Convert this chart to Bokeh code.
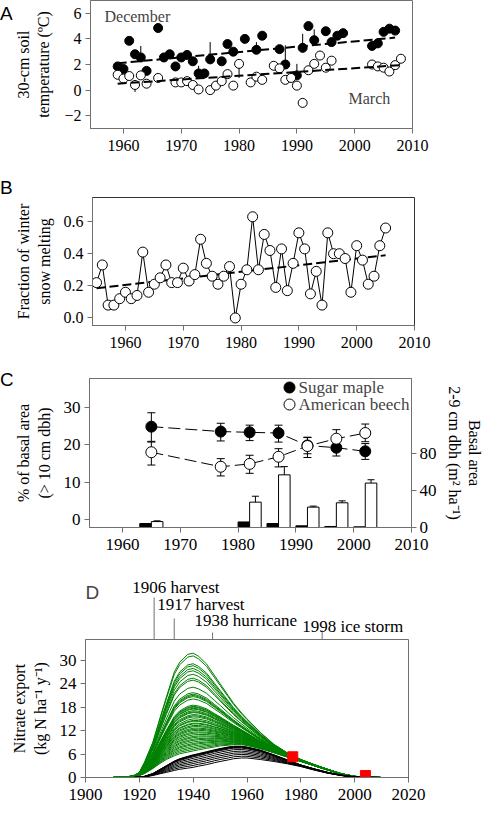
from bokeh.plotting import figure
from bokeh.layouts import column, row
from bokeh.models import (Range1d, LinearAxis, FixedTicker, PrintfTickFormatter, Label,
                          ColumnDataSource, Div)
from bokeh.transform import dodge
from bokeh.embed import file_html
from bokeh.resources import INLINE
from bokeh.core.properties import value

# ---------------- Panel A: 30-cm soil temperature ----------------
dec_year = [1959, 1960, 1961, 1962, 1963, 1964, 1966, 1967, 1968, 1969,
            1970, 1971, 1972, 1973, 1974, 1975, 1977, 1978, 1979, 1981,
            1983, 1984, 1987, 1988, 1990, 1991, 1992, 1993, 1995, 1996,
            1997, 1998, 2003, 2004, 2005, 2006, 2007]
dec_temp = [1.85, 1.65, 3.85, 2.8, 2.55, 1.5, 4.85, 2.55, 2.8, 1.85,
            2.55, 2.75, 2.25, 1.3, 1.3, 2.4, 2.25, 3.6, 3.0, 4.0,
            3.15, 4.25, 3.2, 2.0, 1.15, 3.3, 5.0, 3.9, 4.6, 3.75,
            4.25, 4.45, 3.45, 3.65, 4.55, 4.8, 4.65]
mar_year = [1959, 1960, 1961, 1962, 1963, 1964, 1966, 1969, 1970, 1971,
            1972, 1973, 1975, 1976, 1977, 1978, 1979, 1980, 1982, 1983,
            1984, 1986, 1987, 1988, 1989, 1990, 1991, 1992, 1993, 1994,
            1995, 1996, 2003, 2004, 2005, 2006, 2007, 2008]
mar_temp = [1.2, 0.9, 1.1, 0.4, 1.15, 0.5, 0.95, 0.6, 0.6, 0.7,
            0.4, 0.05, 0.0, 0.35, 0.7, 1.25, 0.35, 2.05, 0.6, 1.05,
            0.8, 1.9, 1.7, 0.8, 0.95, 0.35, -1.0, 1.55, 2.05, 2.7,
            1.75, 2.3, 2.0, 1.85, 1.75, 1.45, 1.95, 2.45]
dec_err_year = [1963, 1973, 1975, 1983, 1988, 1990, 1991, 1993]
dec_err_top = [3.45, 1.9, 3.75, 3.75, 3.5, 2.05, 4.4, 4.75]
mar_err_year = [1962, 1980]
mar_err_bottom = [-0.15, 0.95]
dec_trend_year = [1959, 2007]
dec_trend = [2.1, 4.1]
mar_trend_year = [1959, 2008]
mar_trend = [0.5, 1.95]

# ---------------- Panel B: fraction of winter snow melting ----------------
snow_year = list(range(1955, 2006))
snow_frac = [0.22, 0.33, 0.08, 0.08, 0.12, 0.16, 0.12, 0.14, 0.41, 0.16,
             0.21, 0.25, 0.33, 0.22, 0.22, 0.31, 0.23, 0.27, 0.49, 0.34,
             0.26, 0.21, 0.26, 0.32, 0.00, 0.21, 0.30, 0.63, 0.30, 0.52,
             0.42, 0.19, 0.43, 0.17, 0.34, 0.53, 0.43, 0.15, 0.29, 0.08,
             0.53, 0.40, 0.40, 0.37, 0.16, 0.45, 0.36, 0.21, 0.26, 0.45,
             0.56]
snow_trend_year = [1955, 2005]
snow_trend = [0.185, 0.39]

# ---------------- Panel C: basal area ----------------
survey_year = [1965, 1977, 1982, 1987, 1992, 1997, 2002]
maple_pct = [24.8, 23.5, 23.3, 23.1, 19.8, 19.2, 18.25]
maple_lo = [20.9, 21.0, 21.1, 20.7, 17.6, 17.0, 16.1]
maple_hi = [28.5, 25.7, 25.2, 25.2, 22.0, 21.1, 20.3]
beech_pct = [18.0, 14.15, 14.9, 16.8, 19.65, 21.6, 23.1]
beech_lo = [14.6, 11.7, 12.4, 14.1, 16.6, 19.2, 20.8]
beech_hi = [20.7, 16.3, 17.2, 18.95, 21.9, 24.0, 25.5]
sapling_year = [1965, 1982, 1987, 1992, 1997, 2002]
maple_ba = [4.3, 6.0, 4.3, 1.8, 1.1, 0.7]
beech_ba = [6.4, 27.4, 56.9, 22.0, 26.7, 48.0]
beech_ba_hi = [7.2, 33.8, 65.8, 23.1, 28.8, 51.6]
legend_labels = ["Sugar maple", "American beech"]

# ---------------- Panel D: nitrate export simulations ----------------
d_year = [1900, 1910, 1915, 1918, 1920, 1922, 1925, 1928, 1930, 1933,
          1935, 1938, 1940, 1942, 1945, 1948, 1950, 1953, 1955, 1958,
          1960, 1965, 1970, 1975, 1980, 1985, 1990, 1995, 2000, 2005,
          2010, 2020]
green_base = [0, 0, 0.05, 0.2, 0.5, 1.0, 2.2, 3.6, 4.4, 5.3,
              5.8, 6.2, 6.5, 6.8, 7.2, 7.6, 7.9, 8.1, 8.3, 8.3,
              8.1, 7.3, 6.3, 5.2, 4.1, 3.0, 1.9, 0.9, 0.25, 0.05,
              0, 0]
green_excess = [0, 0, 0.003, 0.012, 0.032, 0.119, 0.269, 0.49, 0.636, 0.858,
                0.937, 1.0, 1.0, 0.957, 0.862, 0.727, 0.636, 0.51, 0.423, 0.324,
                0.273, 0.166, 0.087, 0.043, 0.02, 0.012, 0.008, 0.004, 0.002, 0,
                0, 0]
green_amp = [25.3, 24.6, 22.6, 22.1, 21.4, 20.8, 19.9, 18.9, 18.4, 16.6,
             15.2, 14.8, 14.5, 14.2, 13.6, 12.0, 11.7, 11.5, 11.2, 11.0,
             10.6, 10.3, 10.1, 9.6, 9.3, 9.0, 8.5, 8.1, 7.9, 7.4,
             7.2, 6.8, 6.5, 6.1, 5.8, 5.5, 5.1, 4.8, 4.4, 4.0,
             3.7, 3.3, 3.0, 2.6, 2.2, 1.9, 1.5, 1.1, 0.7, 0.3]
black_low = [0, 0, 0, 0, 0.05, 0.15, 0.5, 1.0, 1.3, 1.8,
             2.1, 2.4, 2.6, 2.9, 3.3, 3.8, 4.1, 4.5, 4.8, 5.0,
             5.0, 4.6, 4.1, 3.5, 2.8, 1.9, 1.1, 0.5, 0.12, 0.02,
             0, 0]
black_excess = [0, 0, 0, 0, 0.05, 0.15, 0.5, 1.2, 1.7, 2.4,
                2.7, 3.0, 3.2, 3.2, 3.3, 3.3, 3.3, 3.3, 3.2, 3.0,
                2.8, 2.4, 1.7, 1.0, 0.4, 0.3, 0.2, 0.1, 0.03, 0,
                0, 0]
black_amp = [1.0, 0.97, 0.94, 0.9, 0.84, 0.72, 0.58, 0.44, 0.3, 0.15, 0.0]
obs_year = [1977, 2004]
obs_nitrate = [5.3, 0.5]
event_year = [1906, 1917, 1938, 1998]
event_label = ["1906 harvest", "1917 harvest", "1938 hurricane", "1998 ice storm"]

# ---------------- styling / layout ----------------
SERIF = "Liberation Serif"
SANS = "Liberation Sans"
AX = "#707070"
W = 476
LW = 12                       # width of the panel-letter column
L_ABC, R_ABC = 72, 70
FW_ABC = W - LW - L_ABC - R_ABC
L_D, R_D = 85, 68
FW_D = W - L_D - R_D


def new_fig(fw, fh, top, bottom, left, right, xr, yr):
    p = figure(frame_width=fw, frame_height=fh, min_border_left=left, min_border_right=right,
               min_border_top=top, min_border_bottom=bottom, x_range=xr, y_range=yr,
               output_backend="svg", toolbar_location=None)
    p.grid.visible = False
    p.outline_line_color = AX
    p.background_fill_color = "white"
    p.border_fill_color = "white"
    return p


def letter_div(height, txt, pad_top):
    return Div(text=('<div style="font-family:\'Liberation Sans\';font-size:19px;'
                     'line-height:19px;color:black;padding-top:%dpx">%s</div>' % (pad_top, txt)),
               width=LW, height=height, margin=0)


def style_axes(p, tick_size="16px", label_size="16px", label_standoff=10):
    for ax in p.axis:
        ax.axis_line_color = AX
        ax.major_tick_line_color = AX
        ax.minor_tick_line_color = None
        ax.major_tick_in = 0
        ax.major_tick_out = 5
        ax.major_label_text_font = SERIF
        ax.major_label_text_font_size = tick_size
        ax.major_label_text_color = "black"
        ax.axis_label_text_font = SERIF
        ax.axis_label_text_font_size = label_size
        ax.axis_label_text_font_style = "normal"
        ax.axis_label_text_color = "black"
        ax.axis_label_standoff = label_standoff
        ax.major_label_standoff = 4
    for ax in p.xaxis:
        ax.major_label_standoff = 6


year_ticks = [1960, 1970, 1980, 1990, 2000, 2010]
XR_ABC = (1954.3, 2010)

# ---------- A ----------
tA, fhA, bA = 0, 128, 50
hA = tA + fhA + bA
pA = new_fig(FW_ABC, fhA, tA, bA, L_ABC, R_ABC, Range1d(*XR_ABC), Range1d(-3, 7))
pA.xaxis.ticker = FixedTicker(ticks=year_ticks)
pA.yaxis.ticker = FixedTicker(ticks=[-2, 0, 2, 4, 6])
pA.yaxis.axis_label = "30-cm soil\ntemperature (ºC)"
style_axes(pA, label_standoff=9)
dec_val = dict(zip(dec_year, dec_temp))
mar_val = dict(zip(mar_year, mar_temp))
pA.segment(x0=dec_err_year, y0=[dec_val[y] for y in dec_err_year], x1=dec_err_year,
           y1=dec_err_top, line_color="black", line_width=1)
pA.segment(x0=mar_err_year, y0=[mar_val[y] for y in mar_err_year], x1=mar_err_year,
           y1=mar_err_bottom, line_color="black", line_width=1)
pA.scatter(dec_year, dec_temp, size=9, fill_color="black", line_color="black")
pA.scatter(mar_year, mar_temp, size=9, fill_color="white", line_color="black", line_width=1)
pA.line(dec_trend_year, dec_trend, line_color="black", line_width=2, line_dash="9 4")
pA.line(mar_trend_year, mar_trend, line_color="black", line_width=2, line_dash="9 4")
pA.add_layout(Label(x=14, y=fhA - 7, x_units="screen", y_units="screen",
                    text="December", text_font=SERIF, text_font_size="16px",
                    text_baseline="top"))
pA.add_layout(Label(x=258, y=30, x_units="screen", y_units="screen",
                    text="March", text_font=SERIF, text_font_size="16px",
                    text_baseline="middle"))
rowA = row(letter_div(hA, "A", 4), pA, spacing=0)

# ---------- B ----------
tB, fhB, bB = 19, 128, 34
hB = tB + fhB + bB
pB = new_fig(FW_ABC, fhB, tB, bB, L_ABC, R_ABC, Range1d(*XR_ABC), Range1d(-0.047, 0.75))
pB.outline_line_color = "#333333"
pB.xaxis.ticker = FixedTicker(ticks=year_ticks)
pB.yaxis.ticker = FixedTicker(ticks=[0.0, 0.2, 0.4, 0.6])
pB.yaxis.formatter = PrintfTickFormatter(format="%.1f")
pB.yaxis.axis_label = "Fraction of winter\nsnow melting"
style_axes(pB, label_standoff=8)
pB.line(snow_year, snow_frac, line_color="black", line_width=1)
pB.line(snow_trend_year, snow_trend, line_color="black", line_width=2, line_dash="9 4")
pB.scatter(snow_year, snow_frac, size=10, fill_color="white", line_color="black", line_width=1)
rowB = row(letter_div(hB, "B", 0), pB, spacing=0)

# ---------- C ----------
tC, fhC, bC = 19, 149, 42
hC = tC + fhC + bC
YR_C = (-2.0, 37.6)
pC = new_fig(FW_ABC, fhC, tC, bC, L_ABC, R_ABC, Range1d(*XR_ABC), Range1d(*YR_C))
pC.extra_y_ranges = {"ba": Range1d(0, 161)}
pC.add_layout(LinearAxis(y_range_name="ba", axis_label="Basal area\n2-9 cm dbh (m² ha⁻¹)",
                         ticker=FixedTicker(ticks=[0, 40, 80])), "right")
pC.xaxis.ticker = FixedTicker(ticks=year_ticks)
pC.yaxis[0].ticker = FixedTicker(ticks=[0, 10, 20, 30])
pC.yaxis[0].axis_label = "% of basal area\n(> 10 cm dbh)"
style_axes(pC, tick_size="17px", label_standoff=8)
pC.yaxis[1].axis_label_standoff = 6
pC.yaxis[1].major_label_standoff = 3

bars = ColumnDataSource(dict(year=sapling_year, maple=maple_ba, beech=beech_ba, hi=beech_ba_hi))
pC.vbar(x=dodge("year", -1, range=pC.x_range), top="maple", bottom=0, width=2,
        source=bars, y_range_name="ba", fill_color="black", line_color="black")
pC.vbar(x=dodge("year", 1, range=pC.x_range), top="beech", bottom=0, width=2,
        source=bars, y_range_name="ba", fill_color="white", line_color="black")
pC.segment(x0=dodge("year", 1, range=pC.x_range), y0="beech", x1=dodge("year", 1, range=pC.x_range),
           y1="hi", source=bars, y_range_name="ba", line_color="black")
pC.scatter(x=dodge("year", 1, range=pC.x_range), y="hi", source=bars, y_range_name="ba",
           marker="dash", size=7, line_color="black")

for lo, hi in ((maple_lo, maple_hi), (beech_lo, beech_hi)):
    pC.segment(x0=survey_year, y0=lo, x1=survey_year, y1=hi, line_color="black")
    pC.scatter(survey_year, lo, marker="dash", size=8, line_color="black")
    pC.scatter(survey_year, hi, marker="dash", size=8, line_color="black")
pC.line(survey_year, maple_pct, line_color="black", line_width=1, line_dash="12 5")
pC.line(survey_year, beech_pct, line_color="black", line_width=1, line_dash="12 5")
pC.scatter(survey_year, maple_pct, size=11, fill_color="black", line_color="black")
pC.scatter(survey_year, beech_pct, size=11, fill_color="white", line_color="black")

# hand-made legend (positions in frame pixels, converted through the ranges)
leg_px_x, leg_px_y = [200, 200], [9, 26]
sx = (XR_ABC[1] - XR_ABC[0]) / FW_ABC
sy = (YR_C[1] - YR_C[0]) / fhC
pC.scatter([XR_ABC[0] + v * sx for v in leg_px_x], [YR_C[1] - v * sy for v in leg_px_y],
           size=11, fill_color=["black", "white"], line_color="black")
for lab, py in zip(legend_labels, leg_px_y):
    pC.add_layout(Label(x=leg_px_x[0] + 9, y=fhC - py, x_units="screen", y_units="screen",
                        text=lab, text_font=SERIF, text_font_size="17px",
                        text_baseline="middle"))
rowC = row(letter_div(hC, "C", 11), pC, spacing=0)

# ---------- D annotation strip ----------
hS = 70
ppy = FW_D / 120.0
pS = figure(width=W, height=hS, min_border_left=0, min_border_right=0, min_border_top=0,
            min_border_bottom=0, x_range=Range1d(1900 - L_D / ppy, 2020 + R_D / ppy),
            y_range=Range1d(0, hS), x_axis_location=None, y_axis_location=None,
            output_backend="svg", toolbar_location=None)
pS.grid.visible = False
pS.outline_line_color = None
tick_len = [42, 21, 7, 9]
label_y = [52, 35, 19, 13]
label_dx = [-22, -17, -18, -20]
pS.segment(x0=event_year, y0=[0] * 4, x1=event_year, y1=tick_len, line_color=AX, line_width=1)
pS.text(x=event_year, y=label_y, text=event_label, x_offset=label_dx,
        text_font=value(SERIF), text_font_size="17px", text_baseline="middle",
        text_align="left", text_color="black")
pS.add_layout(Label(x=0, y=47, x_units="screen", y_units="screen", text="D",
                    text_font=SANS, text_font_size="19px", text_baseline="middle"))

# ---------- D ----------
tD, fhD, bD = 0, 138, 29
pD = new_fig(FW_D, fhD, tD, bD, L_D, R_D, Range1d(1900, 2020), Range1d(0, 35.3))
pD.xaxis.ticker = FixedTicker(ticks=[1900, 1920, 1940, 1960, 1980, 2000, 2020])
pD.yaxis.ticker = FixedTicker(ticks=[0, 6, 12, 18, 24, 30])
pD.yaxis.axis_label = "Nitrate export\n(kg N ha⁻¹ y⁻¹)"
style_axes(pD, tick_size="17px", label_standoff=8)
green_ys = [[b + a * e for b, e in zip(green_base, green_excess)] for a in green_amp]
black_ys = [[b + a * e for b, e in zip(black_low, black_excess)] for a in black_amp]
pD.multi_line([d_year] * len(green_ys), green_ys, line_color="#008000", line_width=1)
pD.multi_line([d_year] * len(black_ys), black_ys, line_color="black", line_width=1)
pD.scatter(obs_year, obs_nitrate, marker="square", size=10, fill_color="red", line_color="red")

layout = column(rowA, rowB, rowC, pS, pD, spacing=0)
open("out.html", "w").write(file_html(layout, INLINE))
